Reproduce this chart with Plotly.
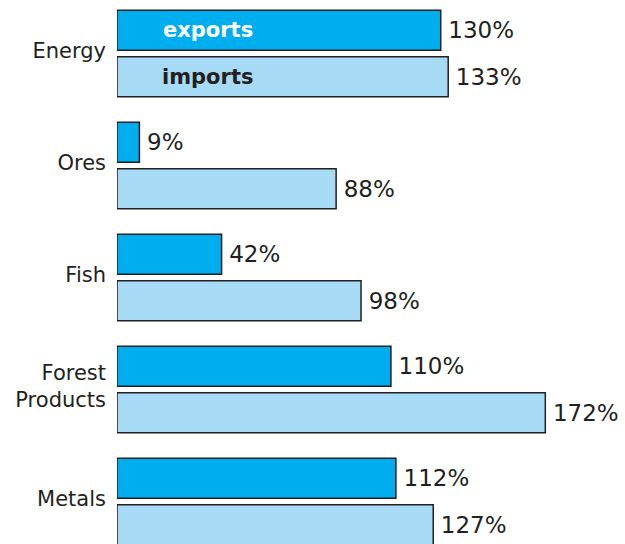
import plotly.graph_objects as go

categories = ["Energy", "Ores", "Fish", "Forest<br>Products", "Metals"]
exports = [130, 9, 42, 110, 112]
imports = [133, 88, 98, 172, 127]

font_family = "DejaVu Sans, Liberation Sans, Arial, sans-serif"
edge = "#231F20"

fig = go.Figure()
fig.add_trace(go.Bar(
    y=categories, x=exports, orientation="h", name="exports",
    marker=dict(color="#00AEEF", line=dict(color=edge, width=1.5)),
    texttemplate="\u2009%{x}%", textposition="outside", cliponaxis=False,
    constraintext="none",
    textfont=dict(family=font_family, size=23, color=edge),
))
fig.add_trace(go.Bar(
    y=categories, x=imports, orientation="h", name="imports",
    marker=dict(color="#A7DBF5", line=dict(color=edge, width=1.5)),
    texttemplate="\u2009%{x}%", textposition="outside", cliponaxis=False,
    constraintext="none",
    textfont=dict(family=font_family, size=23, color=edge),
))

fig.update_layout(
    width=625, height=544,
    margin=dict(l=117, r=0, t=0, b=0),
    paper_bgcolor="white", plot_bgcolor="white",
    barmode="group", bargap=0.17, bargroupgap=0.14,
    showlegend=False,
    xaxis=dict(range=[0, 204], visible=False),
    yaxis=dict(
        type="category", range=[4.38, -0.478],
        showgrid=False, zeroline=False, showline=False,
        ticks="", ticklabelstandoff=10, ticklabelshift=3,
        tickfont=dict(family=font_family, size=21, color=edge),
    ),
    annotations=[
        dict(x=36.5, y=-0.21, xref="x", yref="y", text="<b>exports</b>",
             showarrow=False, font=dict(family=font_family, size=21, color="white")),
        dict(x=36.5, y=0.21, xref="x", yref="y", text="<b>imports</b>",
             showarrow=False, font=dict(family=font_family, size=21, color=edge)),
    ],
)

fig.write_html("out.html")
